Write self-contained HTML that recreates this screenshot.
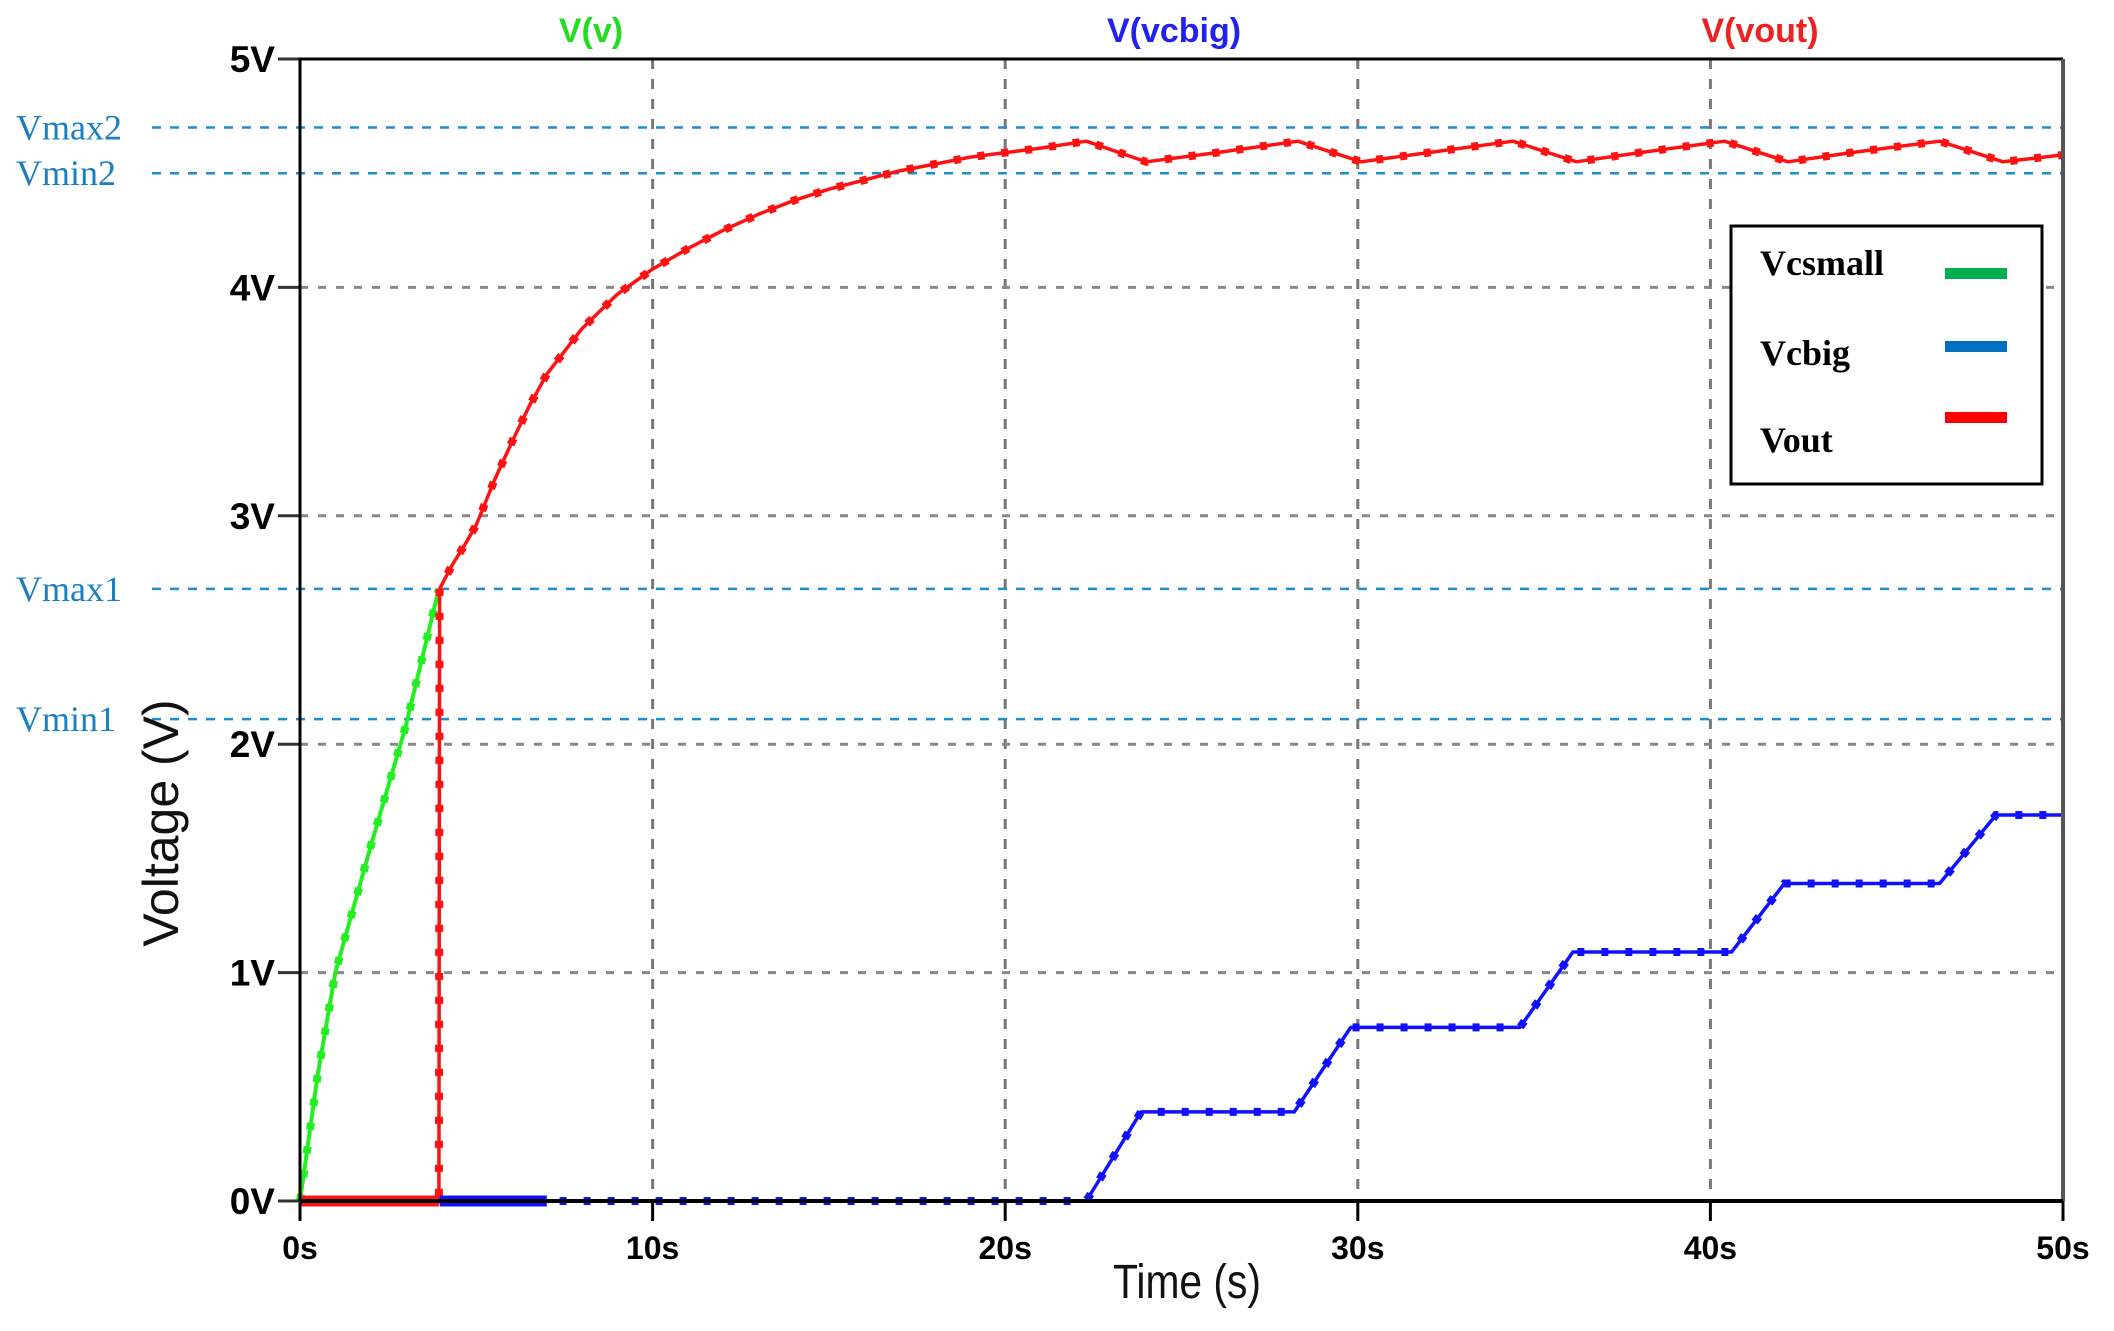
<!DOCTYPE html>
<html><head><meta charset="utf-8"><style>
html,body{margin:0;padding:0;background:#fff;}
svg{display:block;}
</style></head><body>
<svg id="chart" width="2114" height="1331" viewBox="0 0 2114 1331" xmlns="http://www.w3.org/2000/svg">
<g id="grid"></g>
<g id="refs"></g>
<g id="series"></g>
<g id="axes"></g>
<text x="591" y="42" text-anchor="middle" font-family="Liberation Sans, sans-serif" font-weight="bold" font-size="34" fill="#22dd22">V(v)</text>
<text x="1174" y="42" text-anchor="middle" font-family="Liberation Sans, sans-serif" font-weight="bold" font-size="34" fill="#2222ee">V(vcbig)</text>
<text x="1760" y="42" text-anchor="middle" font-family="Liberation Sans, sans-serif" font-weight="bold" font-size="34" fill="#ee2222">V(vout)</text>
<text x="1187" y="1298" text-anchor="middle" font-family="Liberation Sans, sans-serif" font-size="48" fill="#111" transform="translate(1187 0) scale(0.85 1) translate(-1187 0)">Time (s)</text>
<text x="0" y="0" text-anchor="middle" font-family="Liberation Sans, sans-serif" font-size="50" fill="#111" transform="translate(178 823) rotate(-90)">Voltage (V)</text>
<g>
<rect x="1731" y="226" width="311" height="258" fill="#fff" stroke="#000" stroke-width="3"/>
<text x="1760" y="275" font-family="Liberation Serif, serif" font-weight="bold" font-size="36">Vcsmall</text>
<rect x="1945" y="268" width="62" height="11" fill="#00b050"/>
<text x="1760" y="365" font-family="Liberation Serif, serif" font-weight="bold" font-size="36">Vcbig</text>
<rect x="1945" y="341" width="62" height="11" fill="#0070c0"/>
<text x="1760" y="452" font-family="Liberation Serif, serif" font-weight="bold" font-size="36">Vout</text>
<rect x="1945" y="412" width="62" height="11" fill="#ff0000"/>
</g>
</svg>
<script>
const xTicks = [0, 10, 20, 30, 40, 50];
const xTickLabels = ["0s", "10s", "20s", "30s", "40s", "50s"];
const yTicks = [0, 1, 2, 3, 4, 5];
const yTickLabels = ["0V", "1V", "2V", "3V", "4V", "5V"];
const refNames = ["Vmax2", "Vmin2", "Vmax1", "Vmin1"];
const refValues = [4.70, 4.50, 2.68, 2.11];
const vT = [0, 0.5, 1, 2, 3, 3.94];
const vV = [0, 0.55, 1.0, 1.55, 2.08, 2.68];
const voutT = [0, 3.94, 3.96, 4.3, 4.7, 5, 5.5, 6, 6.5, 7, 8, 9, 10, 11, 12, 13, 14, 15, 16, 17, 18, 19, 20, 21, 22.3, 24.0, 26, 28.3, 30.1, 32, 34.4, 36.2, 38, 40.4, 42.2, 44, 46.5, 48.3, 50];
const voutV = [0, 0, 2.68, 2.78, 2.88, 2.96, 3.15, 3.32, 3.48, 3.62, 3.82, 3.97, 4.08, 4.17, 4.25, 4.32, 4.38, 4.43, 4.47, 4.51, 4.54, 4.57, 4.59, 4.61, 4.64, 4.55, 4.59, 4.64, 4.55, 4.59, 4.64, 4.55, 4.59, 4.64, 4.55, 4.59, 4.64, 4.55, 4.58];
const vcbigT = [3.96, 22.3, 23.85, 28.2, 29.8, 34.6, 36.1, 40.6, 42.1, 46.5, 48.1, 50];
const vcbigV = [0, 0, 0.39, 0.39, 0.76, 0.76, 1.09, 1.09, 1.39, 1.39, 1.69, 1.69];

const NS = "http://www.w3.org/2000/svg";
const X0 = 300, X1 = 2063, Y0 = 1201, Y5 = 59;
function xs(t){ return X0 + (t / 50) * (X1 - X0); }
function ys(v){ return Y0 - (v / 5) * (Y0 - Y5); }
function mk(tag, attrs, parent){ const e = document.createElementNS(NS, tag); for (const k in attrs) e.setAttribute(k, attrs[k]); parent.appendChild(e); return e; }
const grid = document.getElementById('grid'), axes = document.getElementById('axes'), refs = document.getElementById('refs'), series = document.getElementById('series');

xTicks.forEach((t, i) => {
  if (i > 0 && i < xTicks.length - 1) {
    const g = mk('line', {x1: xs(t), x2: xs(t), y1: Y5, y2: Y0, stroke: '#777', 'stroke-width': 3, 'stroke-dasharray': '10 10'}, grid);
    
    
  }
  const tk = mk('line', {x1: xs(t), x2: xs(t), y1: Y0, y2: Y0 + 20, stroke: '#000', 'stroke-width': 3}, axes);
  
  
  const lb = mk('text', {x: xs(t), y: 1259, 'text-anchor': 'middle', 'font-family': 'Liberation Sans, sans-serif', 'font-weight': 'bold', 'font-size': 32}, axes);
  lb.textContent = xTickLabels[i];
  
  
});
yTicks.forEach((v, i) => {
  if (i > 0 && i < yTicks.length - 1) {
    const g = mk('line', {x1: X0, x2: X1, y1: ys(v), y2: ys(v), stroke: '#888', 'stroke-width': 3, 'stroke-dasharray': '8 10'}, grid);
    
    
  }
  const tk = mk('line', {x1: X0 - 22, x2: X0, y1: ys(v), y2: ys(v), stroke: '#333', 'stroke-width': 3}, axes);
  
  
  const lb = mk('text', {x: X0 - 25, y: ys(v) + 13, 'text-anchor': 'end', 'font-family': 'Liberation Sans, sans-serif', 'font-weight': 'bold', 'font-size': 37}, axes);
  lb.textContent = yTickLabels[i];
  
  
});
const frame = mk('path', {d: `M${X0},${Y0} L${X0},${Y5} L${X1},${Y5}`, fill: 'none', stroke: '#000', 'stroke-width': 3}, axes);


const rframe = mk('line', {x1: X1, x2: X1, y1: Y5, y2: Y0, stroke: '#555', 'stroke-width': 4}, axes);


const bframe = mk('line', {x1: X0, x2: X1, y1: Y0, y2: Y0, stroke: '#000', 'stroke-width': 4}, axes);



refValues.forEach((v, i) => {
  const l = mk('line', {x1: 152, x2: X1, y1: ys(v), y2: ys(v), stroke: '#1a8fd0', 'stroke-width': 2.5, 'stroke-dasharray': '9 9'}, refs);
  
  
  const t = mk('text', {x: 16, y: ys(v) + 12, 'font-family': 'Liberation Serif, serif', 'font-size': 36, fill: '#1a7fc0'}, refs);
  t.textContent = refNames[i];
  
  
});

function drawSeries(T, V, color, name, w){
  const d = T.map((t, i) => (i ? 'L' : 'M') + xs(t).toFixed(1) + ',' + ys(V[i]).toFixed(1)).join(' ');
  const p = mk('path', {d: d, fill: 'none', stroke: color, 'stroke-width': w, 'stroke-linejoin': 'round'}, series);
  
  
  const m = mk('path', {d: d, fill: 'none', stroke: color, 'stroke-width': 8, 'stroke-dasharray': '7 17'}, series);
  
  
}
drawSeries(vT, vV, '#22ee22', 'v-v', 4);
drawSeries(voutT, voutV, '#ff1111', 'v-vout', 3.5);
drawSeries(vcbigT, vcbigV, '#1111ff', 'v-vcbig', 3.5);
const z1 = mk('line', {x1: xs(voutT[0]), x2: xs(voutT[1]), y1: ys(0), y2: ys(0), stroke: '#ff1111', 'stroke-width': 11}, series);


const z2 = mk('line', {x1: xs(vcbigT[0]), x2: xs(7), y1: ys(0), y2: ys(0), stroke: '#1111ff', 'stroke-width': 11}, series);


</script>
</body></html>
